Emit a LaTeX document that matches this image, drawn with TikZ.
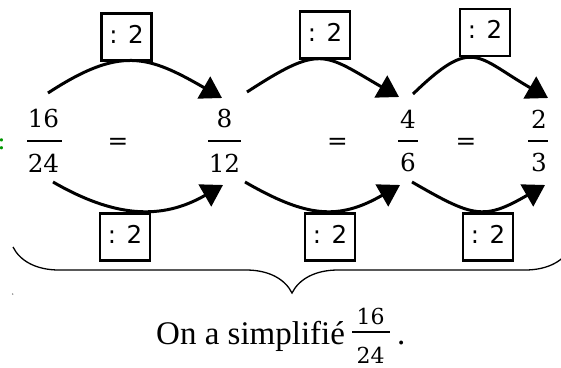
\documentclass[tikz,border=0pt]{standalone}
\usepackage{fontspec}
\setmainfont{Liberation Serif}
\newfontfamily\boxfont{DejaVu Sans}
\newfontfamily\fracfont{DejaVu Serif}
\usetikzlibrary{arrows.meta,decorations.pathreplacing}
\definecolor{colgreen}{RGB}{0,150,0}
\tikzset{
  num/.style={font=\fracfont\fontsize{24.7}{28}\selectfont, inner sep=0pt},
  smallnum/.style={font=\fracfont\fontsize{22}{25}\selectfont, inner sep=0pt},
  fbar/.style={fill=black, inner sep=0pt, minimum height=1.6pt},
  opbox/.style={draw, line width=2.8pt, minimum width=50pt, minimum height=47pt,
    inner sep=0pt, font=\boxfont\fontsize{24.5}{28}\selectfont, text depth=6pt},
  curvarrow/.style={line width=3pt, -{Triangle[length=21pt,width=25pt]}},
  bracestyle/.style={line width=1.3pt, decorate, decoration={brace, mirror, amplitude=46pt}},
  concl/.style={font=\fontsize{33}{36}\selectfont, inner sep=0pt, anchor=base west},
}
\begin{document}
\begin{tikzpicture}[x=1pt,y=-1pt]
\useasboundingbox (0,0) rectangle (561,367);
% green colon
\node[num, text=colgreen] (gc) at (1.5,144) {:};
% fractions
\node[num] (n1) at (43.5,119) {16};
\node[fbar, minimum width=35pt] (b1) at (44.5,141) {};
\node[num] (d1) at (43.5,163) {24};
\node[num] (e1) at (118,143.5) {=};
\node[num] (n2) at (224.5,119) {8};
\node[fbar, minimum width=33pt] (b2) at (224.5,141) {};
\node[num] (d2) at (224.5,163) {12};
\node[num] (e2) at (337.5,143.5) {=};
\node[num] (n3) at (408,119) {4};
\node[fbar, minimum width=20pt] (b3) at (408,141) {};
\node[num] (d3) at (408,163) {6};
\node[num] (e3) at (466,143.5) {=};
\node[num] (n4) at (539,119) {2};
\node[fbar, minimum width=20pt] (b4) at (538,141) {};
\node[num] (d4) at (539,163) {3};
% boxes
\node[opbox] (o1) at (126.5,37) {: 2};
\node[opbox] (o2) at (325,35) {: 2};
\node[opbox] (o3) at (485,32.5) {: 2};
\node[opbox] (o4) at (125,237) {: 2};
\node[opbox] (o5) at (330,237) {: 2};
\node[opbox] (o6) at (488,237) {: 2};
% arc end points
\coordinate (t1a) at (48,93);  \coordinate (t1b) at (222,98);
\coordinate (t2a) at (247,92); \coordinate (t2b) at (399,97);
\coordinate (t3a) at (413,94); \coordinate (t3b) at (548,98);
\coordinate (u1a) at (53,182);  \coordinate (u1b) at (223,185);
\coordinate (u2a) at (245,182); \coordinate (u2b) at (400,185);
\coordinate (u3a) at (412,182); \coordinate (u3b) at (545,185);
\draw[curvarrow] (t1a) .. controls +(72,-47) and +(-74.5,-43) .. (t1b);
\draw[curvarrow] (t2a) .. controls +(74,-48) and +(-76,-44) .. (t2b);
\draw[curvarrow] (t3a) .. controls +(60,-58) and +(-72,-41.5) .. (t3b);
\draw[curvarrow] (u1a) .. controls +(61.5,35.5) and +(-61.5,35.5) .. (u1b);
\draw[curvarrow] (u2a) .. controls +(61.5,35.5) and +(-61.5,35.5) .. (u2b);
\draw[curvarrow] (u3a) .. controls +(61.5,35.5) and +(-61.5,35.5) .. (u3b);
% brace
\coordinate (bl) at (13,247); \coordinate (br) at (571,247);
\draw[bracestyle] (bl) -- (br);
\fill[gray] (12.7,294) circle (0.8pt);
% conclusion
\node[concl] (txt) at (156,344) {On a simplifié};
\node[smallnum] (cn) at (370.5,316) {16};
\node[fbar, minimum width=38pt] (cb) at (371,332) {};
\node[smallnum] (cd) at (370.5,355) {24};
\node[concl] (dot) at (397,344) {.};
\end{tikzpicture}
\end{document}
